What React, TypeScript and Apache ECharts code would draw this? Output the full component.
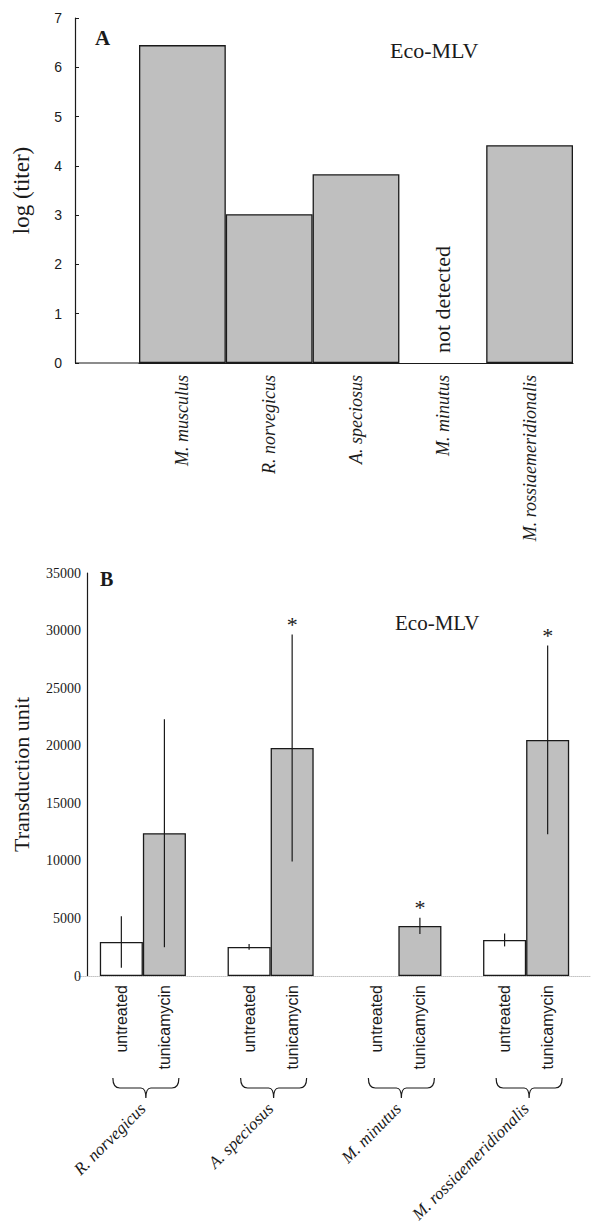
import React, { useEffect, useRef } from "react";
import * as echarts from "echarts";

// ---------- Panel A data ----------
const speciesA = ["M. musculus", "R. norvegicus", "A. speciosus", "M. minutus", "M. rossiaemeridionalis"];
const logTiterA: (number | null)[] = [6.45, 3.02, 3.83, null, 4.42]; // null = not detected
const yMinA = 0;
const yMaxA = 7;
const yStepA = 1;

// ---------- Panel B data ----------
const speciesB = ["R. norvegicus", "A. speciosus", "M. minutus", "M. rossiaemeridionalis"];
const treatmentsB = ["untreated", "tunicamycin"];
const untreatedB: (number | null)[] = [2950, 2520, null, 3130];
const untreatedErrB: (number | null)[] = [2230, 250, null, 560];
const tunicamycinB = [12400, 19800, 4350, 20500];
const tunicamycinErrB = [9900, 9850, 700, 8200];
const significantB = [false, true, true, true];
const yMinB = 0;
const yMaxB = 35000;
const yStepB = 5000;

const SERIF = "'Liberation Serif', 'Times New Roman', serif";
const SANS = "'Liberation Sans', Arial, sans-serif";
const GRAY = "#bfbfbf";
const INK = "#1a1a1a";
const BAR_FRAC = 0.337;

export default function App() {
  const ref = useRef<HTMLDivElement>(null);

  useEffect(() => {
    document.body.style.margin = "0";
    const chart = echarts.init(ref.current!, null, { renderer: "svg" });

    const dataA = logTiterA.map((v) =>
      v === null
        ? {
            value: 0,
            itemStyle: { borderWidth: 0 },
            label: {
              show: true,
              formatter: "not detected",
              position: "top",
              rotate: 90,
              align: "left",
              verticalAlign: "middle",
              distance: 10,
              fontFamily: SERIF,
              fontSize: 22,
              color: INK,
            },
          }
        : v
    );

    const errData: any[] = [];
    untreatedB.forEach((v, i) => {
      if (v !== null && untreatedErrB[i] !== null) errData.push([i, v, untreatedErrB[i], -1, 0]);
    });
    tunicamycinB.forEach((v, i) => {
      errData.push([i, v, tunicamycinErrB[i], 1, significantB[i] ? 1 : 0]);
    });

    const option: any = {
      animation: false,
      backgroundColor: "#ffffff",
      textStyle: { fontFamily: SERIF, color: INK },
      grid: [
        { left: 139, top: 18, width: 434, height: 345, outerBoundsMode: "none", containLabel: false },
        { left: 79, top: 573, width: 511, height: 403, outerBoundsMode: "none", containLabel: false },
      ],
      xAxis: [
        {
          type: "category",
          gridIndex: 0,
          data: speciesA,
          axisLine: { show: true, lineStyle: { color: INK, width: 1.2 } },
          axisTick: { show: false },
          axisLabel: {
            interval: 0,
            rotate: 90,
            margin: 12,
            fontFamily: SERIF,
            fontStyle: "italic",
            fontSize: 18,
            color: INK,
          },
        },
        {
          type: "category",
          gridIndex: 1,
          data: speciesB,
          axisLine: { show: true, lineStyle: { color: "#c4c4c4", width: 1, type: "dotted" } },
          axisTick: { show: false },
          axisLabel: {
            interval: 0,
            rotate: 90,
            margin: 9,
            formatter: () => treatmentsB.join("\n"),
            lineHeight: 43,
            fontFamily: SANS,
            fontSize: 16,
            color: INK,
          },
        },
        {
          type: "category",
          gridIndex: 1,
          data: speciesB,
          position: "bottom",
          offset: 120,
          axisLine: { show: false },
          axisTick: { show: false },
          axisLabel: {
            interval: 0,
            rotate: 45,
            margin: 10,
            fontFamily: SERIF,
            fontStyle: "italic",
            fontSize: 17,
            color: INK,
          },
        },
      ],
      yAxis: [
        {
          type: "value",
          gridIndex: 0,
          min: yMinA,
          max: yMaxA,
          interval: yStepA,
          offset: 64,
          axisLine: { show: true, lineStyle: { color: INK, width: 1.2 } },
          axisTick: { show: true, inside: true, length: 4, lineStyle: { color: INK } },
          splitLine: { show: false },
          axisLabel: { margin: 13, fontFamily: SANS, fontSize: 14, color: INK },
          name: "log (titer)",
          nameLocation: "middle",
          nameGap: 42,
          nameTextStyle: { fontFamily: SERIF, fontSize: 23, color: INK },
        },
        {
          type: "value",
          gridIndex: 1,
          min: yMinB,
          max: yMaxB,
          interval: yStepB,
          offset: -8,
          axisLine: { show: true, lineStyle: { color: INK, width: 1.2 } },
          axisTick: { show: false },
          splitLine: { show: false },
          axisLabel: {
            margin: 6,
            fontFamily: SERIF,
            fontSize: 14,
            color: INK,
            formatter: (v: number) => String(v),
          },
          name: "Transduction unit",
          nameLocation: "middle",
          nameGap: 55,
          nameTextStyle: { fontFamily: SERIF, fontSize: 22, color: INK },
        },
      ],
      series: [
        {
          type: "bar",
          xAxisIndex: 0,
          yAxisIndex: 0,
          data: dataA,
          barCategoryGap: "0%",
          itemStyle: { color: GRAY, borderColor: INK, borderWidth: 1.3 },
        },
        {
          type: "bar",
          name: treatmentsB[0],
          xAxisIndex: 1,
          yAxisIndex: 1,
          data: untreatedB.map((v) => (v === null ? "-" : v)),
          barWidth: (BAR_FRAC * 100).toFixed(1) + "%",
          barGap: "0%",
          itemStyle: { color: "#ffffff", borderColor: INK, borderWidth: 1.3 },
        },
        {
          type: "bar",
          name: treatmentsB[1],
          xAxisIndex: 1,
          yAxisIndex: 1,
          data: tunicamycinB,
          barWidth: (BAR_FRAC * 100).toFixed(1) + "%",
          barGap: "0%",
          itemStyle: { color: GRAY, borderColor: INK, borderWidth: 1.3 },
        },
        {
          type: "custom",
          xAxisIndex: 1,
          yAxisIndex: 1,
          clip: false,
          silent: true,
          z: 10,
          data: errData,
          renderItem: (params: any, api: any) => {
            const idx = api.value(0);
            const mean = api.value(1);
            const err = api.value(2);
            const side = api.value(3);
            const star = api.value(4);
            const bw = api.size([1, 0])[0] * BAR_FRAC;
            const hi = api.coord([idx, mean + err]);
            const lo = api.coord([idx, mean - err]);
            const x = hi[0] + (side * bw) / 2;
            const children: any[] = [
              {
                type: "line",
                shape: { x1: x, y1: hi[1], x2: x, y2: lo[1] },
                style: { stroke: INK, lineWidth: 1.2 },
              },
            ];
            if (star) {
              children.push({
                type: "text",
                x: x,
                y: hi[1] - 10,
                style: {
                  text: "*",
                  fontFamily: SERIF,
                  fontSize: 22,
                  fill: INK,
                  align: "center",
                  verticalAlign: "middle",
                },
              });
            }
            return { type: "group", children };
          },
        },
        {
          type: "custom",
          xAxisIndex: 1,
          yAxisIndex: 1,
          clip: false,
          silent: true,
          z: 10,
          data: speciesB.map((_, i) => [i, 0]),
          renderItem: (params: any, api: any) => {
            const p = api.coord([api.value(0), 0]);
            const c = p[0] + 3;
            const half = 33;
            const T = p[1] + 102;
            const M = p[1] + 112;
            const B = p[1] + 122;
            const L = c - half;
            const R = c + half;
            const d =
              `M${L} ${T} Q${L} ${M} ${L + 7} ${M} L${c - 5} ${M} Q${c} ${M} ${c} ${B} ` +
              `M${R} ${T} Q${R} ${M} ${R - 7} ${M} L${c + 5} ${M} Q${c} ${M} ${c} ${B}`;
            return {
              type: "path",
              shape: { pathData: d },
              style: { stroke: INK, fill: "none", lineWidth: 1.2 },
            };
          },
        },
      ],
      graphic: [
        {
          type: "line",
          shape: { x1: 75, y1: 363, x2: 139, y2: 363 },
          style: { stroke: INK, lineWidth: 1.2 },
        },
        {
          type: "text",
          x: 95,
          y: 38,
          style: { text: "A", fontFamily: SERIF, fontWeight: "bold", fontSize: 21, fill: INK, verticalAlign: "middle" },
        },
        {
          type: "text",
          x: 390,
          y: 50,
          style: { text: "Eco-MLV", fontFamily: SERIF, fontSize: 22, fill: INK, verticalAlign: "middle" },
        },
        {
          type: "text",
          x: 100,
          y: 579,
          style: { text: "B", fontFamily: SERIF, fontWeight: "bold", fontSize: 20, fill: INK, verticalAlign: "middle" },
        },
        {
          type: "text",
          x: 395,
          y: 623,
          style: { text: "Eco-MLV", fontFamily: SERIF, fontSize: 21, fill: INK, verticalAlign: "middle" },
        },
      ],
    };

    chart.setOption(option);
    return () => chart.dispose();
  }, []);

  return <div ref={ref} style={{ width: 596, height: 1225 }} />;
}
